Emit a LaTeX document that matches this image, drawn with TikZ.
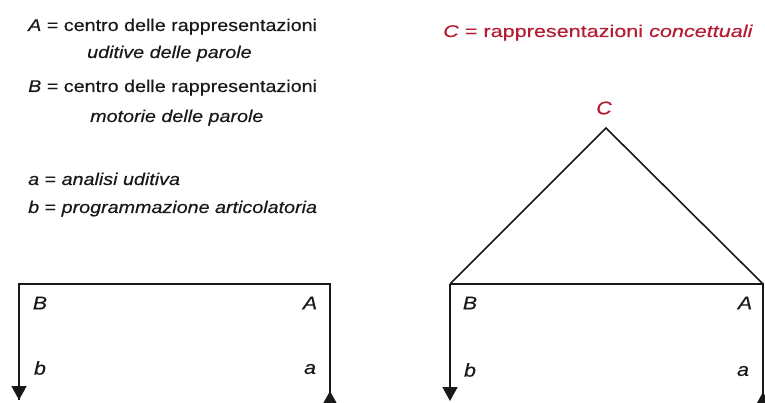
\documentclass[tikz,border=0pt]{standalone}
\usepackage{fontspec}
\setmainfont{Liberation Sans}[FakeStretch=1.16,FakeBold=0.4]
\newfontfamily\redfont{Liberation Sans}[FakeStretch=1.27,FakeBold=0.4]
\usetikzlibrary{arrows.meta}
\definecolor{cred}{RGB}{180,30,50}
\definecolor{lineblack}{RGB}{25,25,25}
\begin{document}
\begin{tikzpicture}[x=1pt,y=-1pt,
  txt/.style={anchor=base west,inner sep=0pt,text=black!90,font=\fontsize{17}{20}\selectfont},
  redtxt/.style={anchor=base west,inner sep=0pt,text=cred,font=\redfont\fontsize{17}{20}\selectfont},
  lbl/.style={anchor=center,inner sep=0pt,text=black!90,font=\fontsize{18.5}{20}\selectfont\itshape},
  wire/.style={draw=lineblack,line width=1.6pt},
  arr/.style={wire,-{Triangle[width=15pt,length=14pt]}}]
\useasboundingbox (0,0) rectangle (765,403);
% legend
\node[txt] (t1) at (28,31) {\textit{A} = centro delle rappresentazioni};
\node[txt] (t2) at (87,58) {\textit{uditive delle parole}};
\node[txt] (t3) at (28,92) {\textit{B} = centro delle rappresentazioni};
\node[txt] (t4) at (90,122) {\textit{motorie delle parole}};
\node[txt] (t5) at (28,185) {\textit{a} = \textit{analisi uditiva}};
\node[txt] (t6) at (28,213) {\textit{b} = \textit{programmazione articolatoria}};
\node[redtxt] (t7) at (443,37) {\textit{C} = rappresentazioni \textit{concettuali}};
% left diagram
\coordinate (LB) at (19,284);
\coordinate (LA) at (330,284);
\coordinate (Lb) at (19,400);
\coordinate (La) at (330,391);
\coordinate (Laend) at (330,410);
\coordinate (Lastart) at (330,407);
\draw[wire] (Lb) -- (LB) -- (LA) -- (Laend);
\draw[arr] (LB) -- (Lb);
\draw[arr] (Lastart) -- (La);
\node[lbl] (lB) at (40,303) {B};
\node[lbl] (lA) at (310,303) {A};
\node[lbl] (lb) at (40,368) {b};
\node[lbl] (la) at (310,369) {a};
% right diagram
\coordinate (RB) at (450,284);
\coordinate (RA) at (763,284);
\coordinate (RC) at (606,128);
\coordinate (Rb) at (450,401);
\coordinate (Ra) at (763,392);
\coordinate (Raend) at (763,410);
\coordinate (Rastart) at (763,408);
\draw[wire] (RB) -- (RC) -- (RA);
\draw[wire] (RB) -- (RA) -- (Raend);
\draw[arr] (RB) -- (Rb);
\draw[arr] (Rastart) -- (Ra);
\node[lbl,text=cred] (rC) at (604,108) {C};
\node[lbl] (rB) at (470,303) {B};
\node[lbl] (rA) at (745,303) {A};
\node[lbl] (rb) at (470,370) {b};
\node[lbl] (ra) at (743,371) {a};
\end{tikzpicture}
\end{document}
